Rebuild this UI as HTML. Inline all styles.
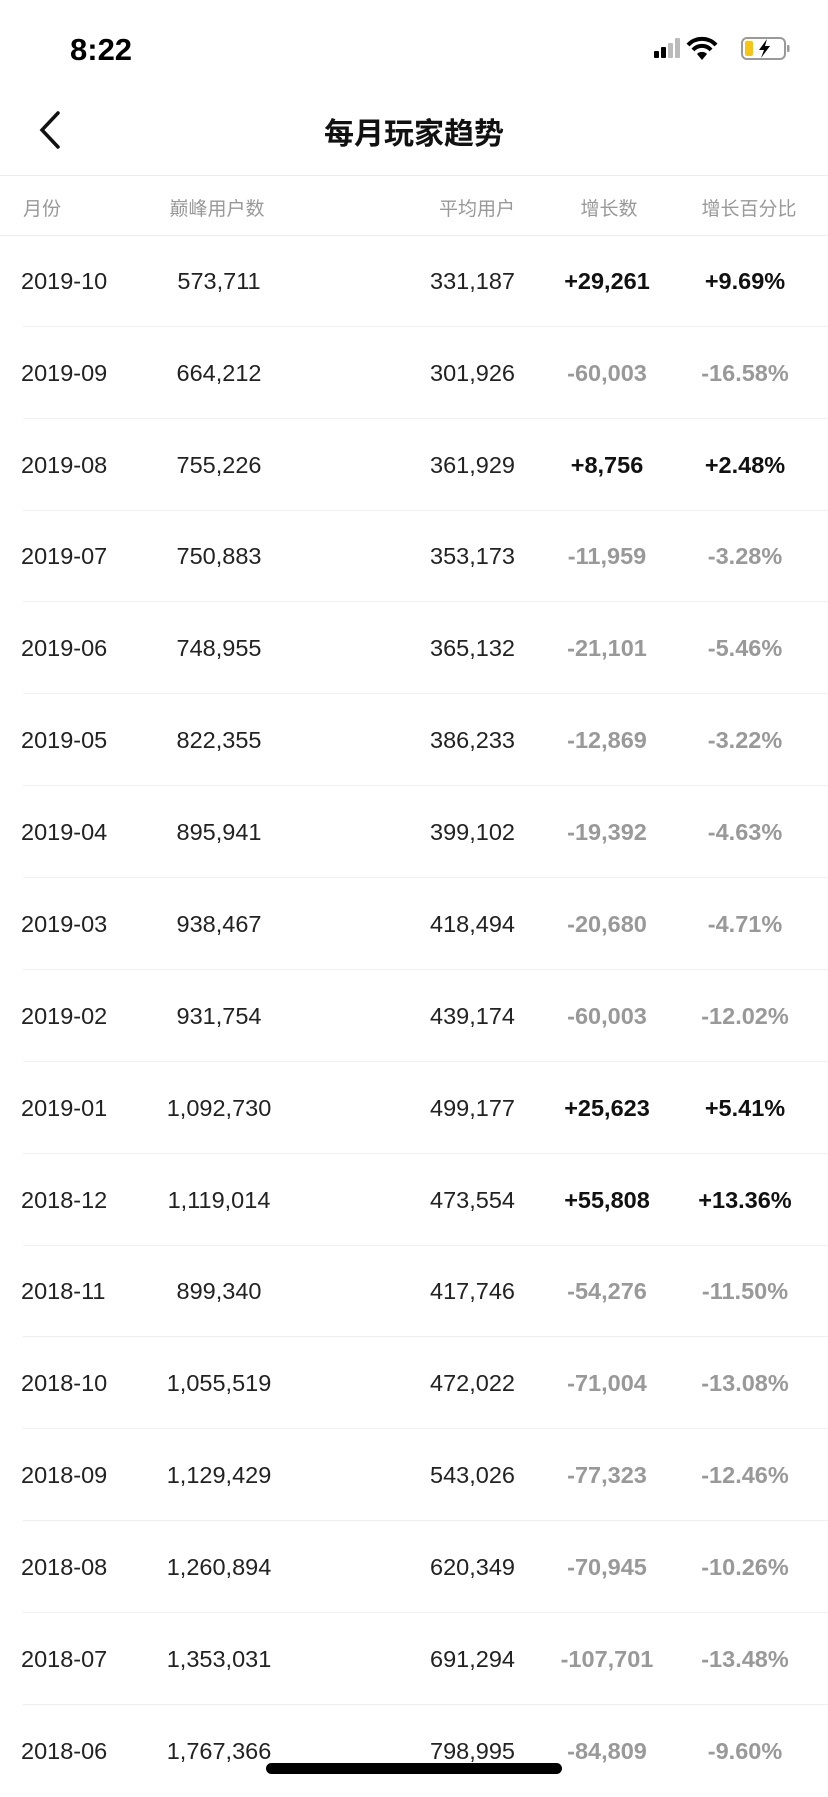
<!DOCTYPE html>
<html><head><meta charset="utf-8"><style>
*{margin:0;padding:0;box-sizing:border-box}
body{width:828px;height:1792px;overflow:hidden;background:#fff;font-family:"Liberation Sans","Noto Sans CJK SC",sans-serif;position:relative;color:#222}
.abs{position:absolute}
.time{left:70px;top:32px;font-size:31px;font-weight:bold;color:#000}
.title{left:0;width:828px;text-align:center;top:109px;font-size:30px;font-weight:bold;color:#111;font-family:"Noto Sans CJK SC",sans-serif}
.line{left:0;width:828px;height:1px;background:#ececec}
.hd{top:194px;font-size:19px;color:#999;font-family:"Noto Sans CJK SC",sans-serif;white-space:nowrap}
.row{position:absolute;left:0;width:828px;height:92px}
.row span{position:absolute;top:0;line-height:92px;font-size:23.5px;white-space:nowrap}
.c1{left:21px}
.c2{left:219px;transform:translateX(-50%)}
.c3{right:313px}
.c4{left:607px;transform:translateX(-50%);font-weight:bold}
.c5{left:745px;transform:translateX(-50%);font-weight:bold}
.pos{color:#111}
.neg{color:#999}
.sep{position:absolute;left:23px;right:0;bottom:0;height:1px;background:#efefef}
</style></head><body>
<div class="abs time">8:22</div>
<svg class="abs" style="left:650px;top:34px" width="145" height="30" viewBox="0 0 145 30">
<rect x="4" y="17" width="5" height="7" rx="1" fill="#000"/>
<rect x="11" y="13" width="5" height="11" rx="1" fill="#000"/>
<rect x="18" y="9" width="5" height="15" rx="1" fill="#bbb"/>
<rect x="25" y="4" width="5" height="20" rx="1" fill="#bbb"/>
<path d="M38 11 A19 19 0 0 1 66 11" stroke="#000" stroke-width="4" fill="none"/>
<path d="M43 16 A12 12 0 0 1 61 16" stroke="#000" stroke-width="4" fill="none"/>
<path d="M47 20 L52 26 L57 20 A7 7 0 0 0 47 20Z" fill="#000"/>
<rect x="92" y="4" width="43" height="21" rx="5" fill="none" stroke="#999" stroke-width="2"/>
<rect x="95" y="7" width="8" height="15" rx="2" fill="#f5c518"/>
<rect x="137" y="11" width="2.5" height="7" rx="1" fill="#999"/>
<path d="M117 5 L109 16 L114 16 L111 24 L120 12 L115 12Z" fill="#000"/>
</svg>
<svg class="abs" style="left:36px;top:110px" width="26" height="40"><path d="M22 3 L6 20 L22 37" stroke="#111" stroke-width="3.5" fill="none" stroke-linecap="round"/></svg>
<div class="abs title">每月玩家趋势</div>
<div class="abs line" style="top:175px"></div>
<div class="abs hd" style="left:23px">月份</div>
<div class="abs hd" style="left:217px;transform:translateX(-50%)">巅峰用户数</div>
<div class="abs hd" style="right:313px">平均用户</div>
<div class="abs hd" style="left:609px;transform:translateX(-50%)">增长数</div>
<div class="abs hd" style="left:749px;transform:translateX(-50%)">增长百分比</div>
<div class="abs line" style="top:235px"></div>
<div class="row" style="top:235px"><span class="c1">2019-10</span><span class="c2">573,711</span><span class="c3">331,187</span><span class="c4 pos">+29,261</span><span class="c5 pos">+9.69%</span><div class="sep"></div></div>
<div class="row" style="top:327px"><span class="c1">2019-09</span><span class="c2">664,212</span><span class="c3">301,926</span><span class="c4 neg">-60,003</span><span class="c5 neg">-16.58%</span><div class="sep"></div></div>
<div class="row" style="top:419px"><span class="c1">2019-08</span><span class="c2">755,226</span><span class="c3">361,929</span><span class="c4 pos">+8,756</span><span class="c5 pos">+2.48%</span><div class="sep"></div></div>
<div class="row" style="top:510px"><span class="c1">2019-07</span><span class="c2">750,883</span><span class="c3">353,173</span><span class="c4 neg">-11,959</span><span class="c5 neg">-3.28%</span><div class="sep"></div></div>
<div class="row" style="top:602px"><span class="c1">2019-06</span><span class="c2">748,955</span><span class="c3">365,132</span><span class="c4 neg">-21,101</span><span class="c5 neg">-5.46%</span><div class="sep"></div></div>
<div class="row" style="top:694px"><span class="c1">2019-05</span><span class="c2">822,355</span><span class="c3">386,233</span><span class="c4 neg">-12,869</span><span class="c5 neg">-3.22%</span><div class="sep"></div></div>
<div class="row" style="top:786px"><span class="c1">2019-04</span><span class="c2">895,941</span><span class="c3">399,102</span><span class="c4 neg">-19,392</span><span class="c5 neg">-4.63%</span><div class="sep"></div></div>
<div class="row" style="top:878px"><span class="c1">2019-03</span><span class="c2">938,467</span><span class="c3">418,494</span><span class="c4 neg">-20,680</span><span class="c5 neg">-4.71%</span><div class="sep"></div></div>
<div class="row" style="top:970px"><span class="c1">2019-02</span><span class="c2">931,754</span><span class="c3">439,174</span><span class="c4 neg">-60,003</span><span class="c5 neg">-12.02%</span><div class="sep"></div></div>
<div class="row" style="top:1062px"><span class="c1">2019-01</span><span class="c2">1,092,730</span><span class="c3">499,177</span><span class="c4 pos">+25,623</span><span class="c5 pos">+5.41%</span><div class="sep"></div></div>
<div class="row" style="top:1154px"><span class="c1">2018-12</span><span class="c2">1,119,014</span><span class="c3">473,554</span><span class="c4 pos">+55,808</span><span class="c5 pos">+13.36%</span><div class="sep"></div></div>
<div class="row" style="top:1245px"><span class="c1">2018-11</span><span class="c2">899,340</span><span class="c3">417,746</span><span class="c4 neg">-54,276</span><span class="c5 neg">-11.50%</span><div class="sep"></div></div>
<div class="row" style="top:1337px"><span class="c1">2018-10</span><span class="c2">1,055,519</span><span class="c3">472,022</span><span class="c4 neg">-71,004</span><span class="c5 neg">-13.08%</span><div class="sep"></div></div>
<div class="row" style="top:1429px"><span class="c1">2018-09</span><span class="c2">1,129,429</span><span class="c3">543,026</span><span class="c4 neg">-77,323</span><span class="c5 neg">-12.46%</span><div class="sep"></div></div>
<div class="row" style="top:1521px"><span class="c1">2018-08</span><span class="c2">1,260,894</span><span class="c3">620,349</span><span class="c4 neg">-70,945</span><span class="c5 neg">-10.26%</span><div class="sep"></div></div>
<div class="row" style="top:1613px"><span class="c1">2018-07</span><span class="c2">1,353,031</span><span class="c3">691,294</span><span class="c4 neg">-107,701</span><span class="c5 neg">-13.48%</span><div class="sep"></div></div>
<div class="row" style="top:1705px"><span class="c1">2018-06</span><span class="c2">1,767,366</span><span class="c3">798,995</span><span class="c4 neg">-84,809</span><span class="c5 neg">-9.60%</span></div>
<div class="abs" style="left:266px;top:1763px;width:296px;height:11px;border-radius:6px;background:#000"></div>
</body></html>
